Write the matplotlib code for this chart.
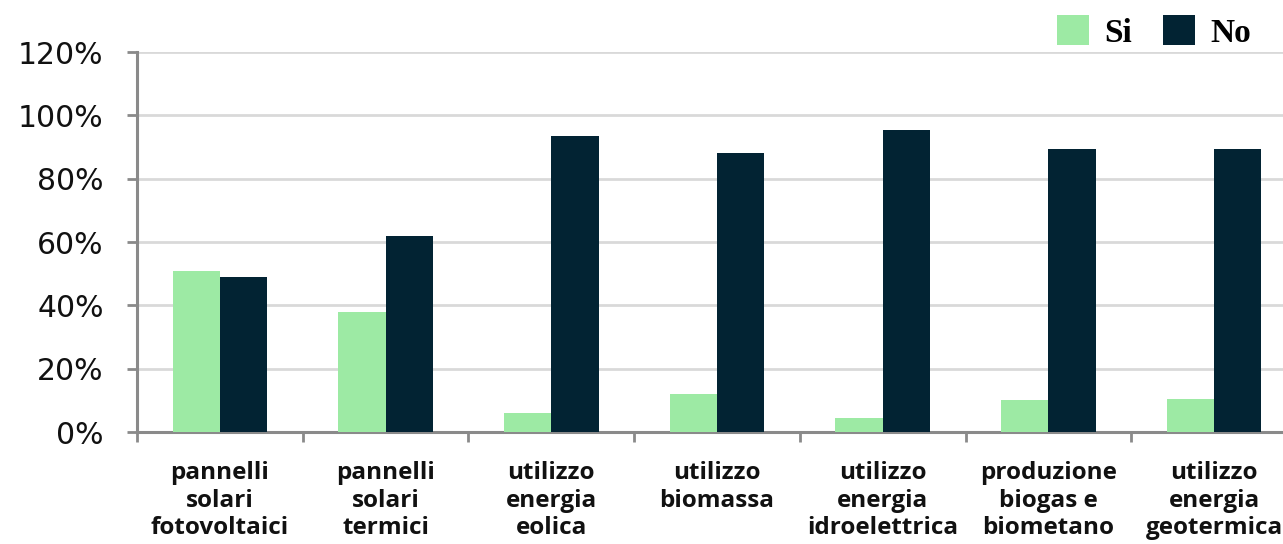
import matplotlib
matplotlib.use("Agg")
import matplotlib.pyplot as plt
from matplotlib.patches import Patch
import numpy as np

categories = [
    "pannelli\nsolari\nfotovoltaici",
    "pannelli\nsolari\ntermici",
    "utilizzo\nenergia\neolica",
    "utilizzo\nbiomassa",
    "utilizzo\nenergia\nidroelettrica",
    "produzione\nbiogas e\nbiometano",
    "utilizzo\nenergia\ngeotermica",
]
si_values = [51, 38, 6, 12, 4.5, 10, 10.5]
no_values = [49, 62, 93.5, 88, 95.5, 89.5, 89.5]
y_ticks = [0, 20, 40, 60, 80, 100, 120]
y_tick_labels = ["0%", "20%", "40%", "60%", "80%", "100%", "120%"]

SI_COLOR = "#9deaa4"
NO_COLOR = "#022333"
AXIS_COLOR = "#8a8a8a"
GRID_COLOR = "#d9d9d9"

W, H = 1283, 544
fig = plt.figure(figsize=(W / 100, H / 100), dpi=100)
ax = fig.add_axes([137 / W, 1 - 432 / H, (1297 - 137) / W, (432 - 52) / H])

x = np.arange(len(categories))
bw = 0.285
ax.bar(x - bw / 2, si_values, width=bw, color=SI_COLOR, zorder=3)
ax.bar(x + bw / 2, no_values, width=bw, color=NO_COLOR, zorder=3)

ax.set_xlim(-0.5, len(categories) - 0.5)
ax.set_ylim(0, 120)
ax.set_yticks(y_ticks)
ax.set_yticklabels(y_tick_labels, fontsize=21.5, family="DejaVu Sans", color="#111111")
ax.yaxis.grid(True, color=GRID_COLOR, linewidth=2, zorder=0)
ax.set_axisbelow(True)

ax.set_xticks(x)
ax.set_xticklabels(categories, fontsize=17.5, fontweight="bold", family="Open Sans",
                   linespacing=1.2, color="#111111")
ax.set_xticks(np.arange(-0.5, len(categories), 1.0), minor=True)
ax.tick_params(axis="x", which="major", length=0, pad=21)
ax.tick_params(axis="x", which="minor", length=7, width=2, color=AXIS_COLOR, direction="out")
ax.tick_params(axis="y", which="major", length=7, width=2, color=AXIS_COLOR, direction="out", pad=17)

for s in ["top", "right"]:
    ax.spines[s].set_visible(False)
for s in ["left", "bottom"]:
    ax.spines[s].set_color(AXIS_COLOR)
    ax.spines[s].set_linewidth(2.2)

handles = [Patch(facecolor=SI_COLOR, label="Si"), Patch(facecolor=NO_COLOR, label="No")]
fig.legend(handles=handles, loc="upper right", bbox_to_anchor=(1274 / W, 1 + 8 / H), ncol=2,
           frameon=False, prop={"family": "Liberation Serif", "weight": "bold", "size": 24},
           handlelength=0.95, handleheight=1.0, handletextpad=0.45, columnspacing=0.95,
           borderpad=0.2)

fig.savefig("out.png", dpi=100)
